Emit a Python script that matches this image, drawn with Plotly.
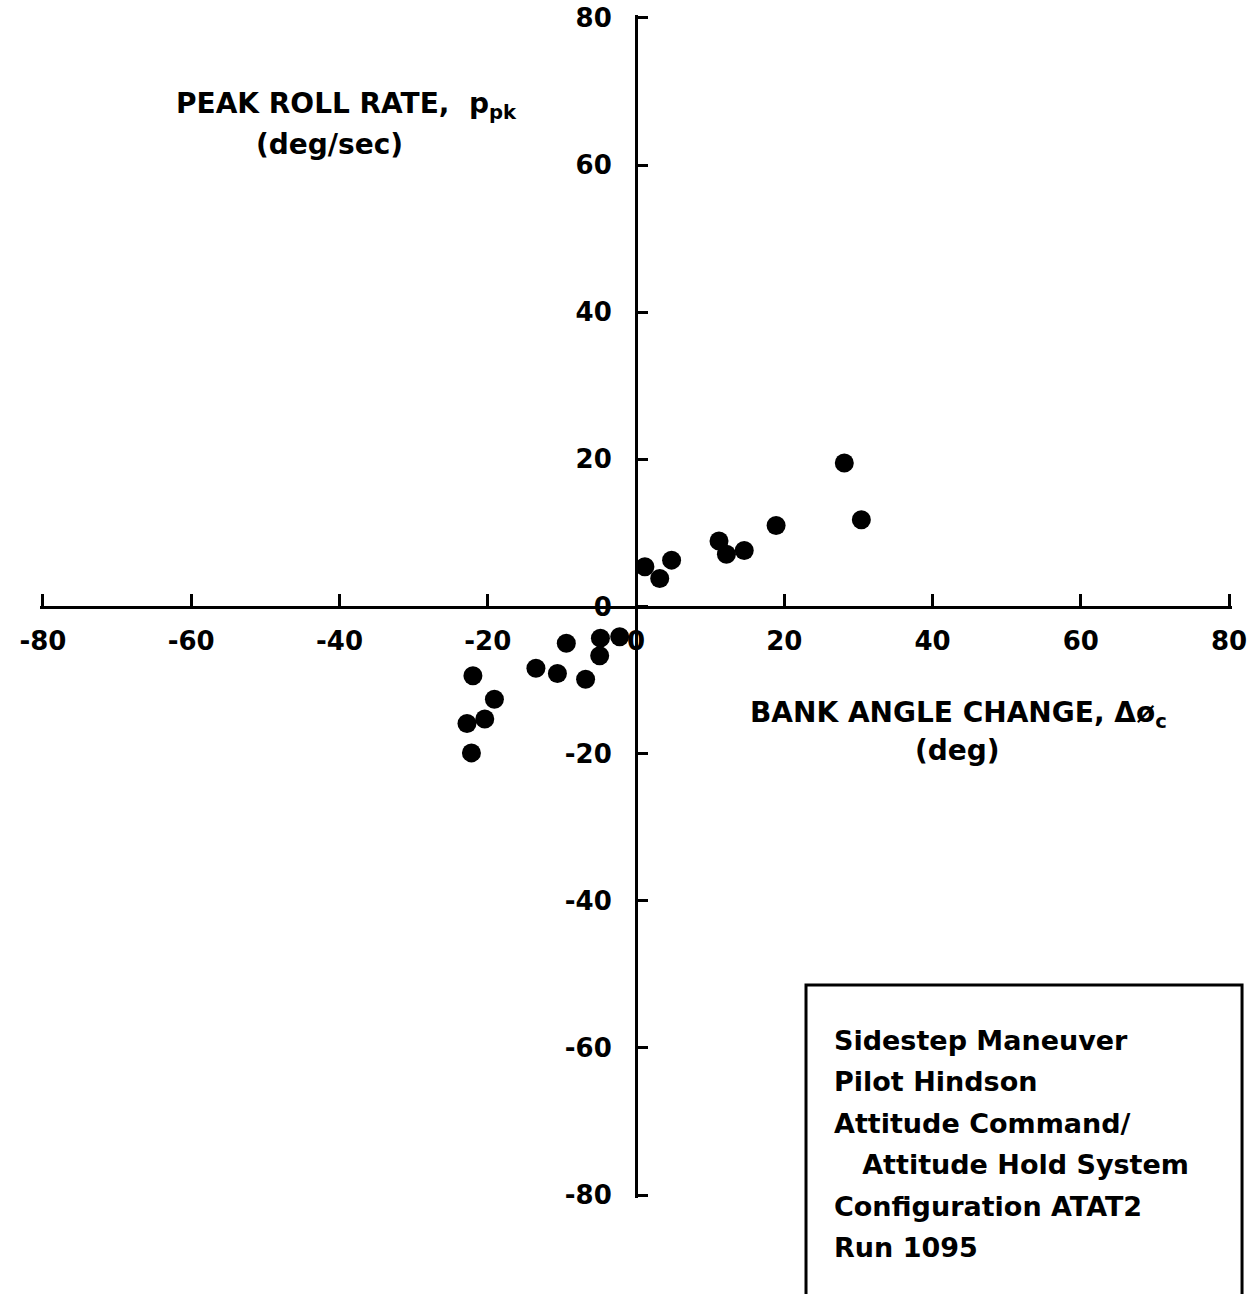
import plotly.graph_objects as go

# Data (deg, deg/sec)
bank_angle_change = [-22.0, -9.4, -13.5, -10.6, -6.8, -19.1, -20.4, -22.8, -22.2,
                     -4.9, -4.8, -2.2, 28.1, 30.4, 18.9, 11.2, 12.2, 14.6, 4.8, 1.2, 3.2]
peak_roll_rate = [-9.4, -5.0, -8.4, -9.1, -9.9, -12.6, -15.3, -15.9, -19.9,
                  -6.7, -4.3, -4.1, 19.5, 11.8, 11.0, 8.9, 7.1, 7.6, 6.3, 5.4, 3.8]
tick_vals = [-80, -60, -40, -20, 0, 20, 40, 60, 80]
tick_text = ["-80", "-60", "-40", "-20", "0", "20", "40", "60", "80"]
box_lines = ["Sidestep Maneuver", "Pilot Hindson", "Attitude Command/",
             "   Attitude Hold System", "Configuration ATAT2", "Run 1095"]

FONT = "DejaVu Sans"
W, H = 1256, 1294
PAD = 0.4  # small range padding so the end ticks are drawn
# pixel positions of the -80 / +80 ticks
X80L, X80R, Y80T, Y80B = 43, 1229, 18, 1195
sx = (X80R - X80L) / 160
sy = (Y80B - Y80T) / 160
PX0, PX1 = X80L - PAD * sx, X80R + PAD * sx
PY0, PY1 = Y80T - PAD * sy, Y80B + PAD * sy
L, T = PX0, PY0
R, B = W - PX1, H - PY1
pw, ph = PX1 - PX0, PY1 - PY0

def px(x):
    return (x - PX0) / pw

def py(y):
    return (PY1 - y) / ph

fig = go.Figure()
fig.add_trace(go.Scatter(
    x=bank_angle_change, y=peak_roll_rate, mode="markers",
    marker=dict(size=19, color="black", line=dict(width=0)),
    showlegend=False, cliponaxis=False, hoverinfo="skip"))

axis_common = dict(
    range=[-80 - PAD, 80 + PAD], tickvals=tick_vals, ticktext=tick_text,
    showgrid=False, zeroline=False, showline=True, linecolor="black", linewidth=3,
    ticks="inside", tickcolor="black", tickwidth=3,
    tickfont=dict(family=FONT, size=26, color="black", weight="bold"),
    ticklabeloverflow="allow",
    anchor="free", position=0.5, fixedrange=True,
)
fig.update_xaxes(**axis_common, side="bottom", ticklen=12, ticklabelstandoff=10)
fig.update_yaxes(**axis_common, side="left", ticklen=10, ticklabelstandoff=18)

annotations = [
    dict(text="<b>PEAK ROLL RATE,  p<sub>pk</sub></b>", x=px(347), y=py(106)),
    dict(text="<b>(deg/sec)</b>", x=px(330), y=py(145)),
    dict(text="<b>BANK ANGLE CHANGE, Δø<sub>c</sub></b>", x=px(958), y=py(714)),
    dict(text="<b>(deg)</b>", x=px(957), y=py(750)),
]
for a in annotations:
    fig.add_annotation(xref="paper", yref="paper", showarrow=False,
                       xanchor="center", yanchor="middle",
                       font=dict(family=FONT, size=28, color="black"), **a)

y0 = 1040
for i, line in enumerate(box_lines):
    fig.add_annotation(xref="paper", yref="paper", showarrow=False,
                       x=px(832), y=py(y0 + i * 41.5), xanchor="left", yanchor="middle",
                       text="<b>" + line.replace(" ", "&nbsp;") + "</b>",
                       font=dict(family=FONT, size=27, color="black"))

fig.add_shape(type="rect", xref="paper", yref="paper",
              x0=px(806), x1=px(1242), y0=py(1330), y1=py(985),
              line=dict(color="black", width=3))

fig.update_layout(
    width=W, height=H,
    margin=dict(l=L, r=R, t=T, b=B, autoexpand=False),
    paper_bgcolor="white", plot_bgcolor="white",
)
fig.write_html("out.html", config={"displayModeBar": False},
               post_script="document.body.style.margin='0';document.body.style.overflow='hidden';")
